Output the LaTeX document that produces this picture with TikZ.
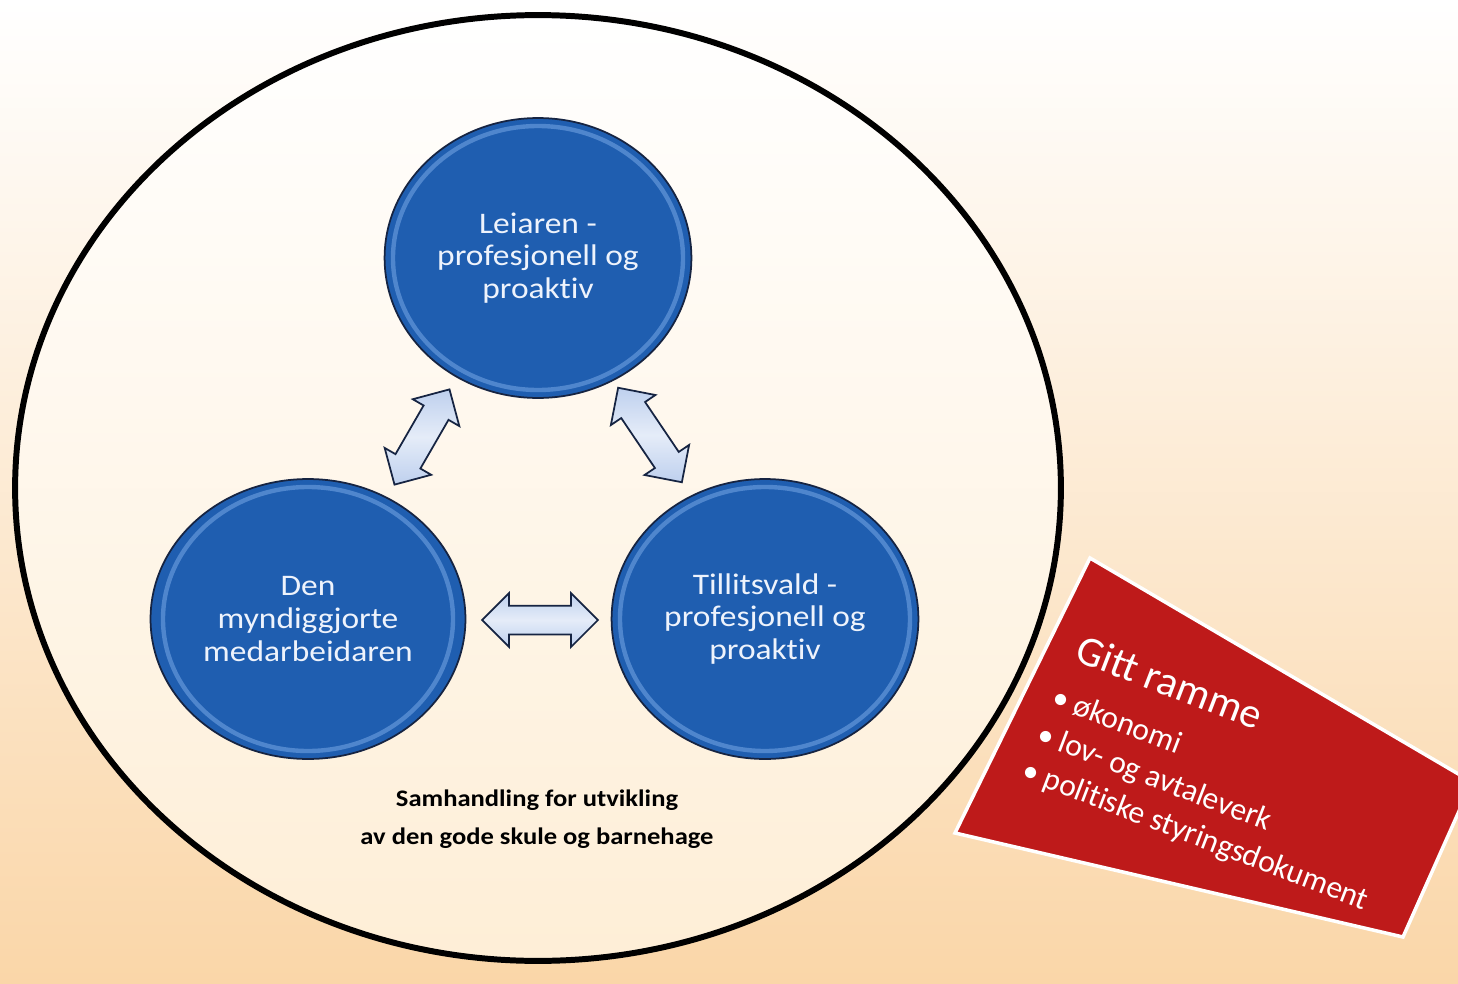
\documentclass[tikz,border=0pt]{standalone}
\usepackage{fontspec}
\setmainfont{Carlito}[Ligatures=NoCommon]
\usetikzlibrary{shapes.geometric,shapes.arrows}

\definecolor{peach}{RGB}{250,214,168}
\definecolor{cream}{RGB}{254,238,214}
\definecolor{discblue}{RGB}{31,94,176}
\definecolor{discline}{RGB}{22,36,66}
\definecolor{disctext}{RGB}{238,243,252}
\definecolor{rimblue}{RGB}{120,168,230}
\definecolor{arrowblue}{RGB}{190,208,238}
\definecolor{framered}{RGB}{190,26,26}

\begin{document}
\begin{tikzpicture}[x=0.02cm,y=-0.02cm,
  disc/.style={ellipse, draw=discline, line width=1pt, fill=discblue,
    xscale=1.12, minimum width=5.48cm, minimum height=5.6cm, align=center,
    text=disctext, font=\fontsize{17}{18.7}\selectfont},
  rim/.style={draw=rimblue, line width=2.5pt, opacity=0.55},
  link/.style={double arrow, draw=discline, line width=1pt,
    top color=arrowblue, bottom color=arrowblue, middle color=white!60!arrowblue,
    inner xsep=0pt, inner ysep=0.27cm, double arrow head extend=0.25cm},
  framebox/.style={ellipse, draw=black, line width=3.4pt, inner sep=0pt,
    minimum width=20.92cm, minimum height=18.92cm},
  boxtext/.style={anchor=base west, rotate=-21, text=white, inner sep=0pt,
    font=\fontsize{18}{21}\selectfont}
]
\clip (0,0) rectangle (1458,984);
\shade[top color=white, bottom color=peach] (0,0) rectangle (1458,984);

% outer frame
\shade[top color=white, bottom color=cream] (538,488) ellipse [x radius=523, y radius=473];
\node[framebox] (frame) at (538,488) {};

% the three parties
\node[disc] (leiar) at (538,258) {Leiaren -\\profesjonell og\\proaktiv};
\node[disc] (tilset) at (308,619) {Den\\myndiggjorte\\medarbeidaren};
\node[disc] (tillit) at (765,619) {Tillitsvald -\\profesjonell og\\proaktiv};
\foreach \n in {leiar,tilset,tillit}
  \draw[rim] (\n.center) ellipse [x radius=145, y radius=132];

\node[link, minimum height=2.2cm, rotate=60] (l1) at (422,437) {};
\node[link, minimum height=2.28cm, rotate=-56] (l2) at (650,435) {};
\node[link, minimum height=2.32cm] (l3) at (540,620) {};

\node[align=center, xscale=1.12, font=\bfseries\fontsize{13.5}{21.5}\selectfont] (tekst) at (537,819)
  {Samhandling for utvikling\\av den gode skule og barnehage};

% given frame
\coordinate (r1) at (1090,558);
\coordinate (r2) at (1472,782);
\coordinate (r3) at (1403,937);
\coordinate (r4) at (955,833);
\fill[framered, draw=white, line width=2pt] (r1) -- (r2) -- (r3) -- (r4) -- cycle;
\node[boxtext, font=\fontsize{24}{28}\selectfont] (gitt) at (1073,660) {Gitt ramme};
\node[boxtext] (b1) at (1050,705) {\textbullet\ økonomi};
\node[boxtext] (b2) at (1035,742) {\textbullet\ lov- og avtaleverk};
\node[boxtext] (b3) at (1020,778) {\textbullet\ politiske styringsdokument};
\end{tikzpicture}
\end{document}
